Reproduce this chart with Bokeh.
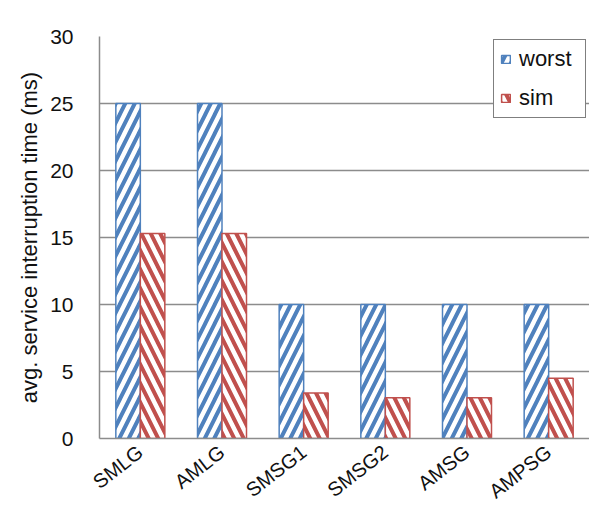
import math
from bokeh.plotting import figure
from bokeh.models import ColumnDataSource, Range1d, FactorRange, Legend, LegendItem
from bokeh.transform import dodge
from bokeh.embed import file_html
from bokeh.resources import INLINE

categories = ["SMLG", "AMLG", "SMSG1", "SMSG2", "AMSG", "AMPSG"]
worst = [25, 25, 10, 10, 10, 10]
sim = [15.3, 15.3, 3.4, 3.05, 3.05, 4.5]
y_ticks = [0, 5, 10, 15, 20, 25, 30]

BLUE = "#4F81BD"
RED = "#C0504D"
GRID = "#8c8c8c"
FONT = "Liberation Sans"

src = ColumnDataSource(dict(cat=categories, worst=worst, sim=sim))

p = figure(width=589, height=514, x_range=FactorRange(*categories), y_range=Range1d(0, 30),
           output_backend="svg", toolbar_location=None,
           min_border_left=99, min_border_top=36, min_border_bottom=76, min_border_right=0)
p.outline_line_color = None
p.background_fill_color = "white"

r1 = p.vbar(x=dodge("cat", -0.15, range=p.x_range), top="worst", width=0.3, source=src,
            fill_color="white", line_color=BLUE, line_width=1.5,
            hatch_pattern="/", hatch_color=BLUE, hatch_scale=19, hatch_weight=4)
r2 = p.vbar(x=dodge("cat", 0.15, range=p.x_range), top="sim", width=0.3, source=src,
            fill_color="white", line_color=RED, line_width=1.5,
            hatch_pattern="\\", hatch_color=RED, hatch_scale=19, hatch_weight=4)

p.xgrid.grid_line_color = None
p.ygrid.grid_line_color = GRID
p.ygrid.grid_line_width = 1.5
p.yaxis.ticker = y_ticks
p.yaxis.axis_line_color = GRID
p.yaxis.axis_line_width = 1.5
p.yaxis.major_tick_line_color = None
p.yaxis.minor_tick_line_color = None
p.yaxis.major_label_text_font = FONT
p.yaxis.major_label_text_font_size = "21px"
p.yaxis.major_label_text_color = "#111111"
p.yaxis.major_label_standoff = 20
p.yaxis.axis_label = "avg. service interruption time (ms)"
p.yaxis.axis_label_text_font = FONT
p.yaxis.axis_label_text_font_size = "22px"
p.yaxis.axis_label_text_font_style = "normal"
p.yaxis.axis_label_text_color = "#111111"
p.yaxis.axis_label_standoff = 5

p.xaxis.axis_line_color = GRID
p.xaxis.axis_line_width = 1.5
p.xaxis.major_tick_line_color = None
p.xaxis.minor_tick_line_color = None
p.xaxis.major_label_orientation = 0.66
p.xaxis.major_label_text_font = FONT
p.xaxis.major_label_text_font_size = "20px"
p.xaxis.major_label_text_color = "#111111"
p.xaxis.major_label_standoff = 5

legend = Legend(items=[LegendItem(label="worst", renderers=[r1]),
                       LegendItem(label="sim", renderers=[r2])],
                location="top_right")
legend.margin = 3
legend.padding = 6
legend.spacing = 13
legend.glyph_width = 11
legend.glyph_height = 10
legend.label_height = 22
legend.label_width = 60
legend.label_standoff = 8
legend.label_text_font = FONT
legend.label_text_font_size = "22px"
legend.label_text_color = "#111111"
legend.border_line_color = "black"
legend.border_line_width = 1.5
legend.background_fill_color = "white"
legend.background_fill_alpha = 1
p.add_layout(legend)

open("out.html", "w").write(file_html(p, INLINE))
